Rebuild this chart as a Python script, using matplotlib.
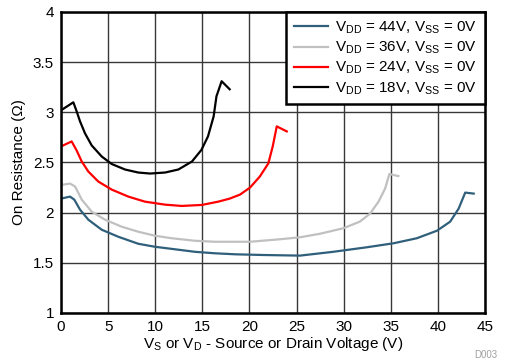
import matplotlib
matplotlib.use("Agg")
import matplotlib.pyplot as plt

plt.rcParams['font.family'] = ['Liberation Sans', 'DejaVu Sans']
plt.rcParams['mathtext.fontset'] = 'custom'
plt.rcParams['mathtext.rm'] = 'Liberation Sans'
plt.rcParams['mathtext.it'] = 'Liberation Sans'

# Data
black_x = [0, 1.31, 1.66, 2.02, 2.55, 3.26, 4.32, 5.38, 6.8, 8.2, 9.45, 11.04, 12.45, 13.9, 14.9, 15.6, 16.2, 16.5, 17.05, 17.9]
black_y = [3.02, 3.10, 3.01, 2.91, 2.79, 2.67, 2.56, 2.485, 2.43, 2.40, 2.39, 2.40, 2.43, 2.51, 2.625, 2.76, 2.96, 3.16, 3.31, 3.23]

red_x = [0, 1.13, 1.66, 2.2, 2.9, 3.96, 5.38, 7.15, 8.9, 11.04, 12.8, 14.94, 16.7, 17.9, 19.0, 20.06, 21.1, 22.0, 22.47, 22.9, 23.96]
red_y = [2.66, 2.71, 2.62, 2.51, 2.41, 2.31, 2.23, 2.16, 2.11, 2.08, 2.067, 2.077, 2.11, 2.14, 2.18, 2.25, 2.36, 2.49, 2.66, 2.86, 2.81]

gray_x = [0, 0.96, 1.5, 2.2, 3.26, 4.67, 6.44, 8.2, 9.98, 11.75, 14.2, 16.35, 18.5, 20.06, 23.25, 25.37, 27.5, 29.97, 31.7, 32.8, 33.7, 34.4, 34.85, 35.8]
gray_y = [2.276, 2.29, 2.26, 2.13, 2.01, 1.93, 1.86, 1.81, 1.77, 1.745, 1.72, 1.71, 1.71, 1.71, 1.735, 1.755, 1.79, 1.845, 1.91, 1.99, 2.11, 2.24, 2.385, 2.365]

blue_x = [0, 0.96, 1.41, 2.02, 2.9, 4.32, 6.08, 8.2, 9.98, 12.1, 14.2, 16.35, 18.5, 21.5, 25.37, 28.9, 32.45, 35.3, 37.76, 39.9, 41.3, 42.2, 42.9, 43.8]
blue_y = [2.14, 2.16, 2.13, 2.03, 1.93, 1.83, 1.76, 1.69, 1.66, 1.635, 1.61, 1.595, 1.585, 1.578, 1.572, 1.61, 1.655, 1.695, 1.745, 1.82, 1.91, 2.04, 2.20, 2.19]

labels = [r'V$_{\mathregular{DD}}$ = 44V, V$_{\mathregular{SS}}$ = 0V',
          r'V$_{\mathregular{DD}}$ = 36V, V$_{\mathregular{SS}}$ = 0V',
          r'V$_{\mathregular{DD}}$ = 24V, V$_{\mathregular{SS}}$ = 0V',
          r'V$_{\mathregular{DD}}$ = 18V, V$_{\mathregular{SS}}$ = 0V']

x_ticks = [0, 5, 10, 15, 20, 25, 30, 35, 40, 45]
y_ticks = [1, 1.5, 2, 2.5, 3, 3.5, 4]
y_ticklabels = ['1', '1.5', '2', '2.5', '3', '3.5', '4']

fig = plt.figure(figsize=(5.08, 3.62), dpi=100)
ax = fig.add_axes([61/508, 1-313/362, (485-61)/508, (313-12)/362])

lw = 1.6
ax.plot(blue_x, blue_y, color='#2f5f7a', lw=lw, label=labels[0])
ax.plot(gray_x, gray_y, color='#c0c0c0', lw=lw, label=labels[1])
ax.plot(red_x, red_y, color='#ff0000', lw=lw, label=labels[2])
ax.plot(black_x, black_y, color='#000000', lw=lw, label=labels[3])

ax.set_xlim(0, 45)
ax.set_ylim(1, 4)
ax.set_xticks(x_ticks)
ax.set_yticks(y_ticks)
ax.set_yticklabels(y_ticklabels)
ax.grid(True, color='#383838', lw=1.0)
ax.tick_params(length=0, labelsize=11, pad=5, colors='black')
for s in ax.spines.values():
    s.set_linewidth(1.8)
    s.set_color('black')

ax.set_xlabel(r'V$_{\mathregular{S}}$ or V$_{\mathregular{D}}$ - Source or Drain Voltage (V)', fontsize=11, labelpad=1)
ax.set_ylabel('On Resistance (Ω)', fontsize=11, labelpad=5)

leg = ax.legend(loc='upper right', fontsize=11, frameon=True, fancybox=False,
                borderaxespad=0, handlelength=2.2, labelspacing=0.25,
                borderpad=0.5, handletextpad=0.5, framealpha=1)
leg.get_frame().set_edgecolor('black')
leg.get_frame().set_linewidth(1.8)

fig.text(497/508, 1-355/362, 'D003', fontsize=7, color='#a0a0a0', ha='right', va='center')

fig.savefig('out.png', dpi=100)
